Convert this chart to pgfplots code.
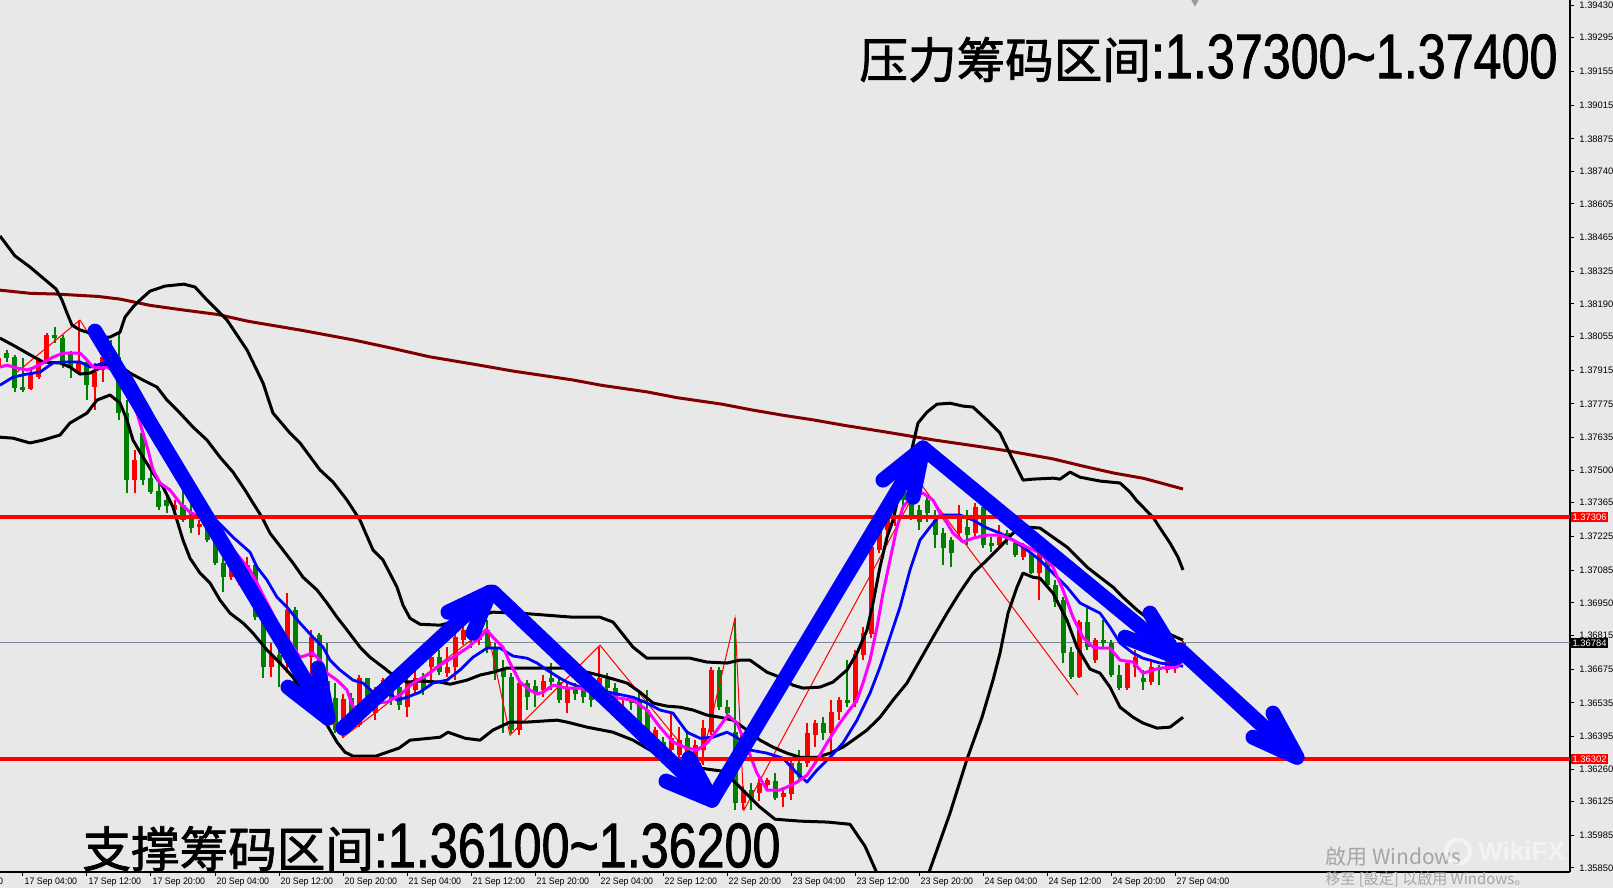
\documentclass[border=0pt]{standalone}
\usepackage{fontspec}
\setmainfont{Liberation Sans}
\newfontfamily\cjk{Noto Sans CJK SC}
\newfontfamily\cjkb{Noto Sans CJK SC}[FakeBold=1.5]
\newfontfamily\latb{Liberation Sans}[FakeBold=1.5]
\usepackage{graphicx}
\usepackage{pgfplots}
\pgfplotsset{compat=1.18}
\usepackage{pgfplotstable}
\definecolor{bg}{RGB}{232,232,232}
\definecolor{cgreen}{RGB}{0,128,0}
\definecolor{cred}{RGB}{255,0,0}
\definecolor{cmag}{RGB}{255,0,255}
\definecolor{cblue}{RGB}{0,0,255}
\definecolor{cmaroon}{RGB}{128,0,0}
\definecolor{cgrayline}{RGB}{120,134,150}
\definecolor{wm}{RGB}{165,165,165}
\newcommand{\tsz}{\fontsize{4.7pt}{5.2pt}\selectfont}
\newcommand{\dlab}[1]{\scalebox{0.94}[1]{#1}}

\pgfplotstableread{
x o h l c
-1 1.37928 1.37999 1.37907 1.37969
31 1.37837 1.37916 1.37833 1.37903
39 1.37886 1.37969 1.37882 1.37957
47 1.37957 1.38069 1.37949 1.38061
79 1.37903 1.38123 1.37895 1.37945
95 1.37845 1.37945 1.37750 1.37907
103 1.37916 1.37986 1.37866 1.37969
135 1.37459 1.37584 1.37405 1.37542
175 1.37335 1.37376 1.37305 1.37355
199 1.37264 1.37293 1.37231 1.37276
231 1.37056 1.37115 1.37044 1.37094
239 1.37044 1.37106 1.37023 1.37086
247 1.37044 1.37139 1.37015 1.37106
271 1.36683 1.36783 1.36641 1.36733
287 1.36700 1.36990 1.36658 1.36920
311 1.36724 1.36837 1.36492 1.36807
343 1.36409 1.36575 1.36392 1.36554
359 1.36442 1.36650 1.36434 1.36637
375 1.36496 1.36600 1.36463 1.36575
383 1.36575 1.36641 1.36546 1.36629
407 1.36517 1.36704 1.36475 1.36617
415 1.36588 1.36671 1.36567 1.36641
431 1.36683 1.36754 1.36629 1.36724
447 1.36658 1.36766 1.36641 1.36683
455 1.36683 1.36857 1.36629 1.36807
463 1.36795 1.36890 1.36774 1.36837
479 1.36795 1.36920 1.36774 1.36857
519 1.36422 1.36629 1.36401 1.36617
543 1.36588 1.36650 1.36558 1.36629
567 1.36534 1.36617 1.36492 1.36600
599 1.36588 1.36766 1.36579 1.36641
623 1.36500 1.36546 1.36475 1.36513
655 1.36351 1.36434 1.36339 1.36422
671 1.36339 1.36492 1.36297 1.36388
679 1.36318 1.36434 1.36297 1.36380
695 1.36305 1.36380 1.36272 1.36359
703 1.36339 1.36463 1.36276 1.36430
711 1.36413 1.36683 1.36401 1.36671
743 1.36119 1.36193 1.36090 1.36173
759 1.36160 1.36226 1.36131 1.36202
767 1.36193 1.36226 1.36173 1.36214
783 1.36143 1.36185 1.36102 1.36160
791 1.36160 1.36297 1.36131 1.36285
807 1.36285 1.36451 1.36268 1.36409
815 1.36401 1.36463 1.36351 1.36451
831 1.36409 1.36546 1.36326 1.36496
839 1.36496 1.36558 1.36463 1.36546
855 1.36534 1.36754 1.36517 1.36741
863 1.36733 1.36849 1.36712 1.36824
871 1.36824 1.37198 1.36807 1.37181
879 1.37169 1.37293 1.37156 1.37264
887 1.37252 1.37397 1.37189 1.37364
895 1.37355 1.37447 1.37272 1.37418
959 1.37239 1.37355 1.37210 1.37314
975 1.37239 1.37364 1.37222 1.37347
999 1.37189 1.37272 1.37177 1.37222
1023 1.37139 1.37198 1.37127 1.37189
1039 1.37077 1.37169 1.36961 1.37156
1079 1.36641 1.36878 1.36637 1.36870
1095 1.36712 1.36807 1.36700 1.36795
1127 1.36596 1.36712 1.36588 1.36700
1135 1.36683 1.36754 1.36641 1.36724
1151 1.36621 1.36704 1.36608 1.36683
1167 1.36671 1.36754 1.36658 1.36712
1175 1.36691 1.36795 1.36658 1.36724
1183 1.36741 1.36791 1.36733 1.36783
}\redcandles

\pgfplotstableread{
x o h l c
7 1.37986 1.37999 1.37949 1.37965
15 1.37969 1.37978 1.37824 1.37841
23 1.37845 1.37965 1.37828 1.37833
55 1.38061 1.38094 1.38028 1.38052
63 1.38052 1.38061 1.37924 1.37945
71 1.37990 1.37995 1.37882 1.37924
87 1.37949 1.37957 1.37791 1.37853
111 1.38019 1.38040 1.37932 1.37945
119 1.37969 1.38069 1.37708 1.37737
127 1.37737 1.37791 1.37405 1.37459
143 1.37654 1.37667 1.37438 1.37459
151 1.37467 1.37501 1.37401 1.37409
159 1.37413 1.37451 1.37335 1.37347
167 1.37376 1.37405 1.37322 1.37355
183 1.37355 1.37438 1.37285 1.37293
191 1.37322 1.37376 1.37239 1.37260
207 1.37305 1.37322 1.37202 1.37210
215 1.37239 1.37252 1.37106 1.37115
223 1.37115 1.37135 1.36994 1.37056
255 1.37106 1.37115 1.36878 1.36890
263 1.36890 1.36894 1.36641 1.36683
279 1.36733 1.36783 1.36600 1.36700
295 1.36920 1.36932 1.36588 1.36617
303 1.36629 1.36650 1.36546 1.36558
319 1.36816 1.36824 1.36492 1.36629
327 1.36629 1.36783 1.36492 1.36558
335 1.36554 1.36617 1.36409 1.36422
351 1.36554 1.36575 1.36463 1.36492
367 1.36637 1.36641 1.36546 1.36558
391 1.36588 1.36629 1.36525 1.36546
399 1.36600 1.36629 1.36505 1.36525
423 1.36641 1.36662 1.36567 1.36588
439 1.36724 1.36754 1.36650 1.36662
471 1.36837 1.36870 1.36762 1.36795
487 1.36837 1.36878 1.36741 1.36766
495 1.36766 1.36783 1.36629 1.36671
503 1.36671 1.36712 1.36409 1.36641
511 1.36641 1.36658 1.36409 1.36422
527 1.36617 1.36629 1.36505 1.36558
535 1.36608 1.36629 1.36517 1.36579
551 1.36637 1.36700 1.36588 1.36621
559 1.36621 1.36641 1.36534 1.36546
575 1.36596 1.36617 1.36546 1.36575
583 1.36600 1.36629 1.36534 1.36558
591 1.36588 1.36617 1.36517 1.36546
607 1.36641 1.36658 1.36575 1.36596
615 1.36596 1.36617 1.36517 1.36534
631 1.36546 1.36558 1.36505 1.36534
639 1.36546 1.36588 1.36434 1.36451
647 1.36505 1.36588 1.36339 1.36409
663 1.36372 1.36392 1.36314 1.36330
687 1.36388 1.36422 1.36297 1.36326
719 1.36671 1.36683 1.36505 1.36517
727 1.36517 1.36546 1.36463 1.36492
735 1.36413 1.36886 1.36090 1.36119
751 1.36173 1.36202 1.36090 1.36131
775 1.36214 1.36243 1.36131 1.36143
799 1.36285 1.36339 1.36214 1.36226
823 1.36451 1.36475 1.36380 1.36409
847 1.36546 1.36712 1.36517 1.36534
903 1.37426 1.37438 1.37335 1.37376
911 1.37388 1.37418 1.37293 1.37314
919 1.37335 1.37355 1.37252 1.37285
927 1.37376 1.37397 1.37285 1.37322
935 1.37293 1.37335 1.37177 1.37231
943 1.37239 1.37260 1.37106 1.37177
951 1.37210 1.37222 1.37098 1.37156
967 1.37264 1.37335 1.37189 1.37231
983 1.37347 1.37364 1.37177 1.37189
991 1.37198 1.37222 1.37160 1.37185
1007 1.37239 1.37252 1.37189 1.37210
1015 1.37198 1.37206 1.37139 1.37148
1031 1.37156 1.37164 1.37069 1.37077
1047 1.37127 1.37139 1.37011 1.37023
1055 1.37023 1.37044 1.36932 1.36953
1063 1.36961 1.36973 1.36700 1.36741
1071 1.36745 1.36766 1.36637 1.36641
1087 1.36870 1.36932 1.36754 1.36766
1103 1.36795 1.36878 1.36766 1.36783
1111 1.36783 1.36795 1.36641 1.36650
1119 1.36650 1.36691 1.36588 1.36596
1143 1.36637 1.36671 1.36588 1.36621
1159 1.36683 1.36690 1.36608 1.36671
}\greencandles

\begin{document}
\begin{tikzpicture}[x=1pt,y=1pt]
\fill[bg] (0,0) rectangle (806.5,444);
\useasboundingbox (0,0) rectangle (806.5,444);
\begin{axis}[
  at={(0pt,8pt)}, anchor=south west,
  scale only axis, width=785pt, height=436pt,
  xmin=0, xmax=1570, ymin=1.35833, ymax=1.39451,
  clip mode=individual,
  axis x line*=bottom, axis y line*=right,
  axis line style={-, black, line width=0.7pt},
  tick align=outside, major tick length=2pt,
  tick style={black, line width=0.5pt},
  scaled y ticks=false,
  xtick={23,87,151,215,279,343,407,471,535,599,663,727,791,855,919,983,1047,1111,1175},
  xticklabels={\dlab{17 Sep 04:00},\dlab{17 Sep 12:00},\dlab{17 Sep 20:00},\dlab{20 Sep 04:00},\dlab{20 Sep 12:00},\dlab{20 Sep 20:00},\dlab{21 Sep 04:00},\dlab{21 Sep 12:00},\dlab{21 Sep 20:00},\dlab{22 Sep 04:00},\dlab{22 Sep 12:00},\dlab{22 Sep 20:00},\dlab{23 Sep 04:00},\dlab{23 Sep 12:00},\dlab{23 Sep 20:00},\dlab{24 Sep 04:00},\dlab{24 Sep 12:00},\dlab{24 Sep 20:00},\dlab{27 Sep 04:00}},
  ytick={1.35850,1.35985,1.36125,1.36260,1.36395,1.36535,1.36675,1.36815,1.36950,1.37085,1.37225,1.37365,1.37500,1.37635,1.37775,1.37915,1.38055,1.38190,1.38325,1.38465,1.38605,1.38740,1.38875,1.39015,1.39155,1.39295,1.39430},
  yticklabels={1.35850,1.35985,1.36125,1.36260,1.36395,1.36535,1.36675,1.36815,1.36950,1.37085,1.37225,1.37365,1.37500,1.37635,1.37775,1.37915,1.38055,1.38190,1.38325,1.38465,1.38605,1.38740,1.38875,1.39015,1.39155,1.39295,1.39430},
  xticklabel style={font=\tsz, anchor=north west, inner sep=0pt, xshift=0.6pt, yshift=-1pt},
  yticklabel style={font=\tsz, anchor=west, inner sep=0pt, xshift=2.5pt},
]
% current price line
\addplot[cgrayline, line width=0.5pt] coordinates {(0,1.36784) (1570,1.36784)};

% candles: wicks and bodies
\addplot[draw=none, mark=none, error bars/.cd, y dir=both, y explicit, error mark=none,
  error bar style={draw=cgreen, draw opacity=1, line width=0.6pt}]
  table[x=x, y expr={(\thisrow{h}+\thisrow{l})/2}, y error expr={(\thisrow{h}-\thisrow{l})/2}] {\greencandles};
\addplot[draw=none, mark=none, error bars/.cd, y dir=both, y explicit, error mark=none,
  error bar style={draw=cred, draw opacity=1, line width=0.6pt}]
  table[x=x, y expr={(\thisrow{h}+\thisrow{l})/2}, y error expr={(\thisrow{h}-\thisrow{l})/2}] {\redcandles};
\addplot[draw=none, mark=none, error bars/.cd, y dir=both, y explicit, error mark=none,
  error bar style={draw=cgreen, draw opacity=1, line width=2.5pt}]
  table[x=x, y expr={(\thisrow{o}+\thisrow{c})/2}, y error expr={max(abs(\thisrow{o}-\thisrow{c})/2,0.000011)}] {\greencandles};
\addplot[draw=none, mark=none, error bars/.cd, y dir=both, y explicit, error mark=none,
  error bar style={draw=cred, draw opacity=1, line width=2.5pt}]
  table[x=x, y expr={(\thisrow{o}+\thisrow{c})/2}, y error expr={max(abs(\thisrow{o}-\thisrow{c})/2,0.000011)}] {\redcandles};

% zigzag
\addplot[cred, line width=0.5pt] coordinates {(17,1.37907) (80,1.38123) (343,1.36392) (487,1.36845) (510,1.36401) (600,1.36774) (700,1.36267) (735,1.36886) (744,1.36090) (920,1.37447) (1078,1.36567)};

% 200 MA (maroon)
\addplot[cmaroon, line width=1.5pt] coordinates {(0,1.38247) (30,1.38234) (56,1.38231) (98,1.38221) (120,1.38210) (150,1.38184) (181,1.38166) (218,1.38146) (248,1.38118) (301,1.38081) (354,1.38040) (391,1.38007) (429,1.37971) (482,1.37934) (512,1.37912) (572,1.37875) (602,1.37852) (647,1.37825) (677,1.37801) (722,1.37774) (752,1.37750) (783,1.37728) (813,1.37709) (843,1.37687) (888,1.37657) (933,1.37626) (978,1.37599) (1008,1.37580) (1053,1.37547) (1084,1.37516) (1114,1.37488) (1144,1.37466) (1183,1.37422)};

% Bollinger bands
\addplot[black, line width=1.5pt, line join=round] coordinates {(0,1.38472) (15,1.38389) (30,1.38343) (56,1.38252) (62,1.38206) (67,1.38152) (72,1.38102) (80,1.38082) (90,1.38069) (100,1.38052) (110,1.38052) (120,1.38073) (125,1.38135) (133,1.38177) (140,1.38206) (150,1.38243) (165,1.38264) (184,1.38272) (195,1.38260) (207,1.38206) (227,1.38123) (247,1.37999) (263,1.37862) (273,1.37737) (290,1.37654) (300,1.37613) (320,1.37501) (333,1.37451) (347,1.37376) (360,1.37293) (373,1.37169) (383,1.37127) (397,1.37015) (403,1.36940) (410,1.36886) (420,1.36861) (440,1.36857) (460,1.36878) (493,1.36911) (520,1.36907) (573,1.36890) (600,1.36890) (613,1.36870) (633,1.36766) (647,1.36720) (673,1.36720) (690,1.36720) (707,1.36704) (727,1.36700) (740,1.36712) (750,1.36712) (767,1.36662) (780,1.36641) (793,1.36608) (803,1.36596) (820,1.36600) (833,1.36621) (847,1.36671) (857,1.36741) (867,1.36837) (873,1.36949) (880,1.37098) (887,1.37222) (893,1.37293) (900,1.37418) (910,1.37554) (918,1.37696) (927,1.37741) (937,1.37774) (950,1.37778) (963,1.37766) (973,1.37762) (987,1.37708) (1000,1.37654) (1013,1.37542) (1023,1.37459) (1033,1.37463) (1053,1.37467) (1060,1.37463) (1070,1.37492) (1080,1.37471) (1100,1.37455) (1120,1.37447) (1130,1.37409) (1137,1.37372) (1153,1.37305) (1160,1.37260) (1170,1.37198) (1178,1.37139) (1183,1.37086)};
\addplot[black, line width=1.5pt, line join=round] coordinates {(0,1.38048) (13,1.38019) (27,1.37986) (43,1.37949) (60,1.37945) (70,1.37928) (80,1.37899) (90,1.37903) (100,1.37924) (110,1.37945) (120,1.37932) (130,1.37903) (143,1.37874) (157,1.37845) (167,1.37791) (180,1.37737) (193,1.37679) (207,1.37625) (220,1.37554) (233,1.37492) (245,1.37418) (253,1.37364) (262,1.37305) (270,1.37239) (283,1.37169) (293,1.37115) (303,1.37056) (317,1.37003) (327,1.36949) (337,1.36890) (347,1.36837) (360,1.36766) (370,1.36724) (383,1.36683) (393,1.36650) (407,1.36621) (420,1.36625) (440,1.36621) (450,1.36612) (467,1.36629) (480,1.36650) (493,1.36662) (507,1.36679) (527,1.36679) (547,1.36679) (567,1.36679) (587,1.36662) (607,1.36641) (627,1.36617) (640,1.36579) (653,1.36534) (667,1.36521) (680,1.36517) (693,1.36505) (707,1.36484) (720,1.36475) (733,1.36463) (747,1.36422) (760,1.36380) (773,1.36351) (787,1.36326) (800,1.36309) (817,1.36309) (830,1.36326) (843,1.36351) (853,1.36380) (867,1.36422) (880,1.36475) (893,1.36546) (907,1.36617) (920,1.36712) (933,1.36807) (947,1.36907) (960,1.36994) (973,1.37073) (987,1.37127) (1000,1.37181) (1013,1.37239) (1027,1.37264) (1040,1.37260) (1053,1.37222) (1067,1.37181) (1087,1.37098) (1100,1.37056) (1113,1.37015) (1123,1.36973) (1137,1.36920) (1150,1.36878) (1167,1.36824) (1183,1.36795)};
\addplot[black, line width=1.5pt, line join=round] coordinates {(0,1.37637) (13,1.37633) (30,1.37613) (43,1.37625) (60,1.37646) (70,1.37696) (80,1.37720) (87,1.37737) (97,1.37791) (110,1.37812) (120,1.37779) (127,1.37708) (133,1.37625) (143,1.37554) (153,1.37488) (163,1.37430) (173,1.37347) (183,1.37210) (190,1.37135) (200,1.37073) (210,1.37032) (220,1.36961) (230,1.36907) (243,1.36866) (253,1.36824) (267,1.36754) (280,1.36700) (293,1.36641) (307,1.36558) (320,1.36492) (330,1.36422) (337,1.36372) (345,1.36330) (353,1.36314) (376,1.36314) (399,1.36347) (410,1.36380) (440,1.36392) (448,1.36413) (465,1.36388) (480,1.36380) (493,1.36422) (510,1.36455) (527,1.36455) (557,1.36463) (567,1.36455) (587,1.36434) (613,1.36413) (633,1.36380) (650,1.36339) (667,1.36309) (683,1.36289) (700,1.36264) (723,1.36251) (740,1.36185) (760,1.36102) (775,1.36052) (800,1.36044) (828,1.36040) (850,1.36031) (865,1.35940) (877,1.35828) (895,1.35740) (912,1.35720) (928,1.35820) (950,1.36077) (967,1.36301) (982,1.36475) (993,1.36629) (1000,1.36741) (1008,1.36907) (1017,1.37015) (1023,1.37073) (1033,1.37056) (1040,1.37052) (1053,1.36990) (1067,1.36878) (1077,1.36766) (1090,1.36675) (1100,1.36658) (1110,1.36600) (1120,1.36517) (1133,1.36475) (1143,1.36451) (1157,1.36430) (1170,1.36434) (1183,1.36475)};

% moving averages
\addplot[cblue, line width=1.4pt, line join=round] coordinates {(0,1.37853) (13,1.37886) (27,1.37899) (40,1.37907) (53,1.37945) (63,1.37949) (80,1.37949) (90,1.37928) (97,1.37936) (107,1.37949) (130,1.37895) (150,1.37750) (170,1.37584) (190,1.37438) (213,1.37305) (233,1.37222) (250,1.37160) (257,1.37098) (267,1.37044) (277,1.36973) (287,1.36932) (300,1.36866) (313,1.36807) (323,1.36766) (330,1.36712) (340,1.36671) (353,1.36629) (363,1.36617) (373,1.36579) (387,1.36588) (397,1.36546) (407,1.36558) (420,1.36579) (433,1.36617) (447,1.36629) (460,1.36671) (473,1.36724) (487,1.36762) (500,1.36762) (513,1.36729) (527,1.36720) (537,1.36700) (547,1.36671) (560,1.36637) (567,1.36621) (580,1.36600) (600,1.36588) (613,1.36575) (633,1.36558) (647,1.36534) (660,1.36505) (673,1.36492) (687,1.36413) (700,1.36388) (713,1.36392) (727,1.36413) (737,1.36392) (750,1.36339) (767,1.36326) (783,1.36305) (797,1.36243) (807,1.36206) (817,1.36256) (830,1.36309) (843,1.36368) (857,1.36463) (870,1.36575) (880,1.36683) (890,1.36807) (900,1.36932) (910,1.37086) (920,1.37210) (930,1.37264) (940,1.37314) (960,1.37314) (973,1.37293) (987,1.37260) (1000,1.37239) (1013,1.37210) (1027,1.37169) (1040,1.37127) (1053,1.37073) (1067,1.37015) (1080,1.36949) (1100,1.36907) (1110,1.36849) (1120,1.36783) (1133,1.36741) (1143,1.36720) (1160,1.36700) (1183,1.36687)};
\addplot[cmag, line width=1.5pt, line join=round] coordinates {(0,1.37928) (7,1.37936) (17,1.37924) (27,1.37916) (33,1.37924) (43,1.37945) (53,1.37969) (63,1.37986) (80,1.37986) (87,1.37957) (93,1.37928) (100,1.37924) (107,1.37928) (117,1.37903) (123,1.37845) (130,1.37791) (137,1.37737) (143,1.37654) (148,1.37584) (153,1.37501) (160,1.37447) (170,1.37418) (180,1.37364) (190,1.37326) (200,1.37305) (225,1.37210) (250,1.37086) (257,1.37032) (262,1.36990) (280,1.36845) (300,1.36724) (313,1.36741) (320,1.36712) (327,1.36658) (337,1.36629) (347,1.36588) (353,1.36517) (363,1.36517) (373,1.36534) (387,1.36538) (400,1.36567) (413,1.36617) (427,1.36650) (440,1.36691) (453,1.36724) (467,1.36762) (480,1.36807) (487,1.36837) (493,1.36807) (503,1.36766) (510,1.36700) (520,1.36621) (530,1.36588) (537,1.36571) (543,1.36579) (553,1.36608) (567,1.36596) (580,1.36596) (593,1.36579) (613,1.36558) (633,1.36546) (647,1.36505) (660,1.36434) (673,1.36372) (687,1.36347) (697,1.36339) (707,1.36368) (717,1.36422) (728,1.36484) (737,1.36451) (747,1.36351) (757,1.36243) (767,1.36173) (780,1.36173) (787,1.36185) (797,1.36206) (807,1.36235) (817,1.36297) (827,1.36368) (837,1.36434) (847,1.36492) (857,1.36546) (863,1.36617) (870,1.36712) (877,1.36849) (883,1.36990) (890,1.37127) (897,1.37264) (903,1.37347) (913,1.37397) (923,1.37405) (933,1.37376) (940,1.37322) (947,1.37281) (953,1.37239) (963,1.37202) (973,1.37218) (987,1.37231) (1000,1.37231) (1013,1.37210) (1027,1.37181) (1040,1.37156) (1053,1.37098) (1063,1.37003) (1073,1.36890) (1083,1.36807) (1093,1.36766) (1100,1.36762) (1110,1.36762) (1120,1.36712) (1133,1.36704) (1143,1.36658) (1160,1.36679) (1177,1.36683) (1183,1.36712)};

% horizontal levels
\addplot[cred, line width=2pt] coordinates {(0,1.37306) (1570,1.37306)};
\addplot[cred, line width=2pt] coordinates {(0,1.36302) (1570,1.36302)};

% top marker
\addplot[only marks, mark=triangle*, mark size=2.2pt, mark options={rotate=180, fill=gray!80, draw=gray!80}] coordinates {(1195,1.39446)};

% blue arrows
\addplot[cblue, line width=7.5pt, line cap=round, line join=round] coordinates {(95,1.38077) (328,1.36471)};
\addplot[cblue, line width=7.5pt, line cap=round, line join=round] coordinates {(318,1.36679) (328,1.36471) (288,1.36600)};
\addplot[cblue, line width=7.5pt, line cap=round, line join=round] coordinates {(343,1.36430) (490,1.36994)};
\addplot[cblue, line width=7.5pt, line cap=round, line join=round] coordinates {(448,1.36911) (490,1.36994) (473,1.36824)};
\addplot[cblue, line width=7.5pt, line cap=round, line join=round] coordinates {(493,1.36994) (712,1.36131)};
\addplot[cblue, line width=7.5pt, line cap=round, line join=round] coordinates {(666,1.36210) (712,1.36131) (689,1.36305)};
\addplot[cblue, line width=7.5pt, line cap=round, line join=round] coordinates {(712,1.36131) (923,1.37592)};
\addplot[cblue, line width=7.5pt, line cap=round, line join=round] coordinates {(883,1.37459) (923,1.37592) (913,1.37388)};
\addplot[cblue, line width=7.5pt, line cap=round, line join=round] coordinates {(923,1.37592) (1177,1.36724)};
\addplot[cblue, line width=7.5pt, line cap=round, line join=round] coordinates {(1150,1.36907) (1177,1.36724) (1125,1.36807)};
\addplot[cblue, line width=7.5pt, line cap=round, line join=round] coordinates {(1180,1.36754) (1297,1.36309)};
\addplot[cblue, line width=7.5pt, line cap=round, line join=round] coordinates {(1273,1.36492) (1297,1.36309) (1253,1.36392)};

% price boxes on the scale
\node[fill=cred, text=white, anchor=west, inner xsep=0.8pt, inner ysep=0.7pt, font=\tsz] at (axis cs:1570.5,1.37306) {1.37306};
\node[fill=cred, text=white, anchor=west, inner xsep=0.8pt, inner ysep=0.7pt, font=\tsz] at (axis cs:1570.5,1.36302) {1.36302};
\node[fill=black, text=white, anchor=west, inner xsep=0.8pt, inner ysep=0.7pt, font=\tsz] at (axis cs:1570.5,1.36784) {1.36784};

% partial date label at the left edge
\node[anchor=north west, inner sep=0pt, font=\tsz, yshift=-3pt] at (axis cs:-50,1.35833) {\dlab{16 Sep 20:00}};

% annotations
\node[anchor=base west, inner sep=0pt] at (axis cs:859,1.39127)
  {{\cjkb\fontsize{24.3pt}{25pt}\selectfont 压力筹码区间}\scalebox{0.8}[1]{\latb\fontsize{31.4pt}{32pt}\selectfont :1.37300\textasciitilde 1.37400}};
\node[anchor=base west, inner sep=0pt] at (axis cs:82,1.35853)
  {{\cjkb\fontsize{24.3pt}{25pt}\selectfont 支撑筹码区间}\scalebox{0.8}[1]{\latb\fontsize{31.4pt}{32pt}\selectfont :1.36100\textasciitilde 1.36200}};

% watermarks
\node[anchor=base west, inner sep=0pt, text=wm] at (axis cs:1325,1.35865)
  {\cjk\fontsize{10.5pt}{11pt}\selectfont 啟用 Windows};
\node[anchor=base west, inner sep=0pt, text=wm] at (axis cs:1325,1.35782)
  {\cjk\fontsize{7.5pt}{8pt}\selectfont 移至 [設定] 以啟用 Windows。};
\node[anchor=base west, inner sep=0pt, text=white, opacity=0.5] at (axis cs:1478,1.35880)
  {\fontsize{13pt}{13pt}\selectfont\bfseries WikiFX};
\draw[white, opacity=0.5, line width=2pt] (axis cs:1458,1.35918) circle[radius=6pt];
\end{axis}
\end{tikzpicture}
\end{document}
